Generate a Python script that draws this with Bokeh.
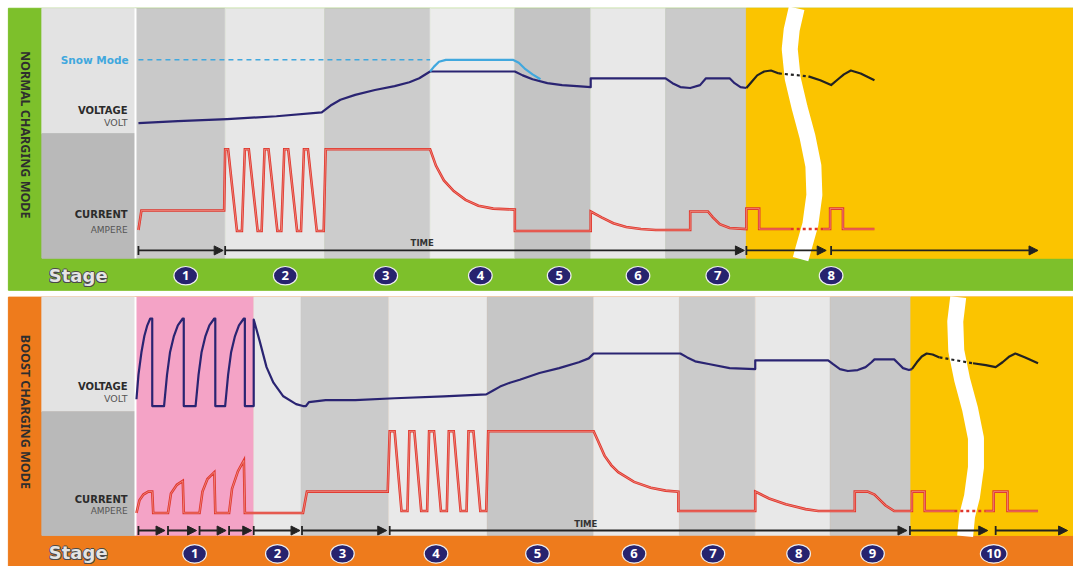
from bokeh.plotting import figure
from bokeh.models import Range1d, Arrow, NormalHead, TeeHead, ColumnDataSource
from bokeh.core.properties import value
from bokeh.embed import file_html
from bokeh.resources import INLINE

# ---------------- data (image pixel units) ----------------
TOP_STAGE_EDGES = [137, 228, 329, 436, 522, 599, 675, 757]
TOP_STAGE_NUMBERS = ["1", "2", "3", "4", "5", "6", "7", "8"]
TOP_STAGE_NUM_X = [188, 289, 391, 487, 567, 647, 728, 843]

BOT_STAGE_EDGES = [137, 257, 305, 394, 494, 602, 689, 766, 842, 924]
BOT_STAGE_NUMBERS = ["1", "2", "3", "4", "5", "6", "7", "8", "9", "10"]
BOT_STAGE_NUM_X = [197, 281, 347, 442, 545, 643, 723, 810, 885, 1008]

# normal mode voltage (navy part, then black continuation in yellow area)
TOP_VOLT = [(140, 126), (180, 124), (230, 122), (280, 119), (326, 115), (335, 108), (345, 102),
            (360, 97), (380, 92), (400, 88), (415, 84), (425, 80), (436, 73), (522, 73), (530, 77),
            (540, 81), (555, 85), (570, 87), (585, 88), (599, 89), (599, 80), (675, 80), (682, 85),
            (690, 89), (700, 90), (710, 87), (716, 80), (740, 80), (745, 85), (751, 89), (757, 90)]
TOP_VOLT_TAIL_A = [(757, 90), (762, 84), (768, 77), (775, 73), (782, 72), (790, 75)]
TOP_VOLT_TAIL_GAP = [(790, 75), (820, 78)]
TOP_VOLT_TAIL_B = [(820, 78), (832, 82), (843, 87), (850, 81), (856, 76), (863, 72), (873, 75), (887, 82)]
SNOW_LEVEL = [(140, 61), (436, 61)]
SNOW_VOLT = [(436, 73), (440, 68), (445, 63), (452, 61), (520, 61), (526, 64), (532, 70), (540, 76), (548, 81)]

# normal mode current
TOP_CURR = [(140, 236), (143, 216), (227, 216), (228, 153), (231, 153), (240, 237), (245, 237),
            (248, 153), (252, 153), (261, 237), (265, 237), (268, 153), (272, 153), (281, 237),
            (285, 237), (288, 153), (292, 153), (301, 237), (305, 237), (308, 153), (312, 153),
            (321, 237), (328, 237), (330, 153), (436, 153), (442, 170), (450, 185), (460, 196),
            (472, 205), (485, 211), (500, 214), (522, 215), (522, 237), (599, 237), (599, 217),
            (610, 223), (622, 229), (635, 233), (650, 235), (665, 236), (700, 236), (700, 217),
            (718, 217), (723, 223), (730, 230), (740, 234), (757, 235), (757, 214), (770, 214),
            (770, 235), (802, 235)]
TOP_CURR_GAP = [(802, 235), (835, 235)]
TOP_CURR_B = [(835, 235), (842, 235), (842, 214), (855, 214), (855, 235), (887, 235)]

# boost mode voltage
BOT_VOLT = [(138, 410), (140, 385), (143, 362), (146, 345), (149, 334), (152, 327), (154, 327),
            (154, 417), (166, 417), (169, 385), (172, 362), (176, 345), (180, 334), (185, 327),
            (186, 327), (186, 417), (198, 417), (201, 385), (204, 362), (208, 345), (212, 334),
            (217, 327), (218, 327), (218, 417), (228, 417), (231, 385), (234, 362), (238, 345),
            (242, 334), (247, 327), (248, 327), (248, 417), (257, 417), (257, 328), (263, 350),
            (270, 377), (277, 393), (287, 407), (300, 415), (307, 417), (310, 417), (313, 413),
            (330, 411), (360, 411), (400, 409), (450, 407), (493, 405), (500, 401), (507, 397),
            (517, 393), (527, 390), (547, 383), (567, 378), (587, 372), (597, 368), (602, 363),
            (690, 363), (697, 367), (705, 371), (720, 374), (740, 378), (766, 379), (766, 370),
            (840, 370), (845, 374), (852, 379), (860, 381), (870, 380), (878, 377), (884, 372),
            (887, 369), (907, 369), (911, 373), (916, 378), (922, 380), (925, 379)]
BOT_VOLT_TAIL_A = [(925, 379), (930, 372), (935, 366), (940, 363), (946, 364), (953, 367)]
BOT_VOLT_TAIL_GAP = [(953, 367), (987, 373)]
BOT_VOLT_TAIL_B = [(987, 373), (1000, 375), (1010, 377), (1017, 372), (1024, 366), (1030, 363),
                   (1040, 367), (1053, 373)]

# boost mode current
BOT_CURR = [(138, 527), (141, 514), (145, 508), (150, 505), (154, 505), (155, 527), (170, 527),
            (173, 507), (179, 498), (185, 494), (186, 527), (202, 527), (205, 505), (210, 492),
            (217, 485), (218, 527), (232, 527), (235, 502), (241, 484), (247, 473), (248, 527),
            (307, 527), (311, 505), (393, 505), (395, 443), (400, 443), (407, 525), (413, 525),
            (415, 443), (420, 443), (427, 525), (433, 525), (435, 443), (440, 443), (447, 525),
            (453, 525), (455, 443), (460, 443), (467, 525), (473, 525), (475, 443), (480, 443),
            (487, 525), (493, 525), (495, 443), (602, 443), (606, 452), (613, 468), (620, 478),
            (627, 485), (643, 495), (660, 501), (675, 504), (688, 505), (688, 525), (766, 525),
            (766, 505), (772, 508), (780, 512), (797, 518), (817, 523), (830, 525), (867, 525),
            (867, 505), (880, 505), (887, 508), (893, 514), (898, 519), (907, 525), (925, 525),
            (925, 505), (938, 505), (938, 525), (968, 525)]
BOT_CURR_GAP = [(968, 525), (1000, 525)]
BOT_CURR_B = [(1000, 525), (1008, 525), (1008, 505), (1022, 505), (1022, 525), (1053, 525)]

# time arrows (start, end)
TOP_ARROWS = [(140, 226), (228, 755), (757, 838), (843, 1053)]
BOT_ARROWS = [(140, 167), (170, 199), (202, 229), (232, 255), (257, 304), (306, 392),
              (395, 920), (923, 1002), (1010, 1083)]

# white "time break" stripes (centre line)
TOP_BREAK = [(808, 8), (803, 30), (801, 50), (804, 80), (811, 110), (819, 140), (825, 170),
             (826, 200), (822, 230), (815, 255), (812, 266)]
BOT_BREAK = [(972, 305), (969, 330), (970, 360), (976, 390), (984, 420), (990, 450),
             (990, 480), (986, 510), (981, 530), (979, 551)]

# ---------------- styles ----------------
GREEN = "#7dc02b"
ORANGE = "#ee7b1c"
YELLOW = "#fbc400"
PINK = "#f4a3c6"
LBL_LIGHT = "#e3e3e3"
LBL_DARK = "#b9b9b9"
NAVY = "#2a2472"
RED = "#e0362c"
SKY = "#41a8de"
TOP_SHADES = ["#c9c9c9", "#e7e7e7", "#cccccc", "#ececec", "#c4c4c4", "#e8e8e8", "#cacaca"]
BOT_SHADES = [PINK, "#e8e8e8", "#cbcbcb", "#e9e9e9", "#c6c6c6", "#eaeaea", "#cbcbcb", "#e8e8e8", "#c8c8c8"]
FONT = value("Noto Sans")
WIDE = value("DejaVu Sans")

p = figure(width=1073, height=566, x_range=Range1d(0, 1089), y_range=Range1d(582, 0),
           output_backend="svg", toolbar_location=None, x_axis_type=None, y_axis_type=None,
           min_border=0)
p.xgrid.visible = False
p.ygrid.visible = False
p.outline_line_color = None
p.background_fill_color = "white"
p.border_fill_color = "white"


def xs(pts):
    return [a for a, _ in pts]


def ys(pts):
    return [b for _, b in pts]


def panel(y0, y_split, y_band, y1, frame, edges, shades, yellow_x, stripe):
    # frame colour
    p.quad(left=[8], right=[1089], top=[y0], bottom=[y1], fill_color=frame, line_color=frame)
    # label column
    p.quad(left=[42], right=[137], top=[y0], bottom=[y_split], fill_color=LBL_LIGHT, line_color=LBL_LIGHT)
    p.quad(left=[42], right=[137], top=[y_split], bottom=[y_band], fill_color=LBL_DARK, line_color=LBL_DARK)
    # stages
    n = len(edges) - 1
    p.quad(left=edges[:-1], right=edges[1:], top=[y0] * n, bottom=[y_band] * n,
           fill_color=shades, line_color=shades, line_width=0.6)
    p.quad(left=[yellow_x], right=[1089], top=[y0], bottom=[y_band], fill_color=YELLOW, line_color=YELLOW)
    p.segment(x0=[137], y0=[y0], x1=[137], y1=[y_band], line_color="white", line_width=2)
    p.line(xs(stripe), ys(stripe), line_color="white", line_width=16, line_cap="butt")


panel(8, 137, 265, 298, GREEN, TOP_STAGE_EDGES, TOP_SHADES, 757, TOP_BREAK)
panel(305, 423, 550, 582, ORANGE, BOT_STAGE_EDGES, BOT_SHADES, 924, BOT_BREAK)


def volt(pts, color=NAVY, dash="solid"):
    p.line(xs(pts), ys(pts), line_color=color, line_width=2.2, line_dash=dash, line_join="round")


def curr(pts, dash="solid"):
    p.line(xs(pts), ys(pts), line_color=RED, line_width=2.6, line_dash=dash, line_join="miter")
    if dash == "solid":
        p.line(xs(pts), ys(pts), line_color="#f6b8ae", line_width=0.7, line_join="miter", alpha=0.8)


# normal mode curves
p.line(xs(SNOW_LEVEL), ys(SNOW_LEVEL), line_color=SKY, line_width=1.6, line_dash="5 4")
volt(TOP_VOLT)
volt(SNOW_VOLT, SKY)
volt(TOP_VOLT_TAIL_A, "#222222")
volt(TOP_VOLT_TAIL_GAP, "#222222", "3 3")
volt(TOP_VOLT_TAIL_B, "#222222")
curr(TOP_CURR)
curr(TOP_CURR_GAP, "3 3")
curr(TOP_CURR_B)

# boost mode curves
volt(BOT_VOLT)
volt(BOT_VOLT_TAIL_A, "#222222")
volt(BOT_VOLT_TAIL_GAP, "#222222", "3 3")
volt(BOT_VOLT_TAIL_B, "#222222")
curr(BOT_CURR)
curr(BOT_CURR_GAP, "3 3")
curr(BOT_CURR_B)


def arrows(segs, y):
    src = ColumnDataSource(dict(x0=[a for a, _ in segs], x1=[b for _, b in segs], y=[y] * len(segs)))
    p.add_layout(Arrow(x_start="x0", y_start="y", x_end="x1", y_end="y", source=src,
                       line_color="#222222", line_width=1.8,
                       start=TeeHead(size=9, line_color="#222222", line_width=1.8),
                       end=NormalHead(size=9, fill_color="#222222", line_color="#222222")))


arrows(TOP_ARROWS, 257)
arrows(BOT_ARROWS, 545)
p.text(x=[428, 594], y=[249, 538], text=["TIME", "TIME"], text_font=WIDE, text_font_size="8.5px",
       text_font_style="bold", text_color="#333333", text_align="center", text_baseline="middle")

# labels
p.text(x=[129, 129], y=[113, 397], text=["VOLTAGE", "VOLTAGE"], text_font=WIDE, text_font_size="10px",
       text_font_style="bold", text_color="#2b2b2b", text_align="right", text_baseline="middle")
p.text(x=[129, 129], y=[125, 409], text=["VOLT", "VOLT"], text_font=WIDE, text_font_size="9.5px",
       text_color="#555555", text_align="right", text_baseline="middle")
p.text(x=[129, 129], y=[220, 513], text=["CURRENT", "CURRENT"], text_font=WIDE, text_font_size="10px",
       text_font_style="bold", text_color="#2b2b2b", text_align="right", text_baseline="middle")
p.text(x=[129, 129], y=[236, 525], text=["AMPERE", "AMPERE"], text_font=WIDE, text_font_size="9px",
       text_color="#555555", text_align="right", text_baseline="middle")
p.text(x=[130], y=[61], text=["Snow Mode"], text_font=WIDE, text_font_size="10.5px",
       text_font_style="bold", text_color=SKY, text_align="right", text_baseline="middle")

# vertical mode titles
p.text(x=[25, 25], y=[138, 423], text=["NORMAL CHARGING MODE", "BOOST CHARGING MODE"], text_font=FONT,
       text_font_size="12.5px", text_font_style="bold", text_color="#2e2e2e", text_align="center",
       text_baseline="middle", angle=-1.5708)

# "Stage" outlined labels
for dx, dy in [(-0.9, 0), (0.9, 0), (0, -0.9), (0, 0.9), (0.7, 0.7), (-0.7, 0.7)]:
    p.text(x=[49, 49], y=[283, 568], text=["Stage", "Stage"], text_font=WIDE, text_font_size="18px",
           text_font_style="bold", text_color="#4a4a4a", text_align="left", text_baseline="middle",
           x_offset=dx, y_offset=dy)
p.text(x=[49, 49], y=[283, 568], text=["Stage", "Stage"], text_font=WIDE, text_font_size="18px",
       text_font_style="bold", text_color="#e4e4e4", text_align="left", text_baseline="middle")

# stage number badges
num_x = TOP_STAGE_NUM_X + BOT_STAGE_NUM_X
num_y = [283] * len(TOP_STAGE_NUM_X) + [569] * len(BOT_STAGE_NUM_X)
num_t = TOP_STAGE_NUMBERS + BOT_STAGE_NUMBERS
num_w = [24 if len(t) == 1 else 27 for t in num_t]
p.ellipse(x=num_x, y=num_y, width=num_w, height=19, fill_color="#27236e", line_color="#f0f0f0",
          line_width=1.2)
p.text(x=num_x, y=num_y, text=num_t, text_font=FONT, text_font_size="13px", text_font_style="bold",
       text_color="white", text_align="center", text_baseline="middle")

open("out.html", "w").write(file_html(p, INLINE))
